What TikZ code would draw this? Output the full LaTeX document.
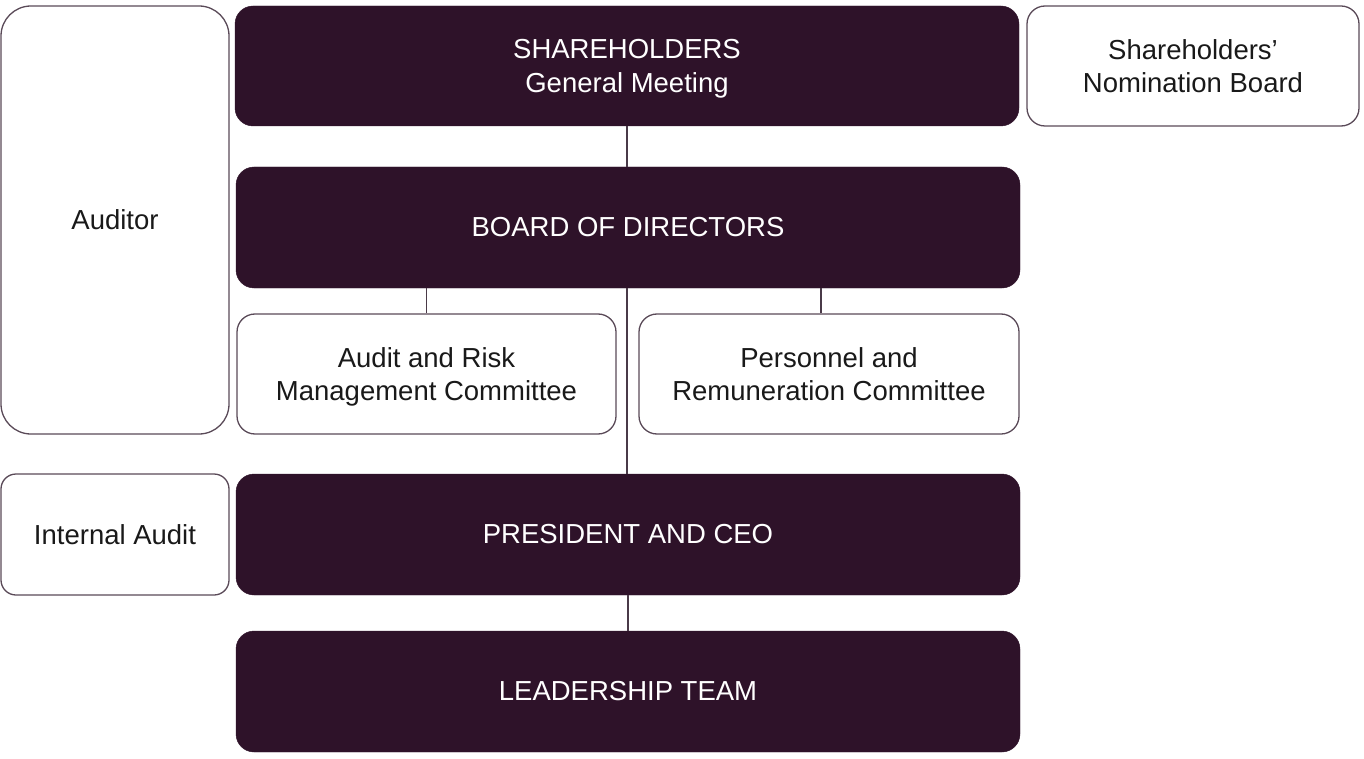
\documentclass[tikz,border=0pt]{standalone}
\usepackage{fontspec}
\setmainfont{Liberation Sans}
\definecolor{darkp}{HTML}{2E1229}
\definecolor{edgep}{HTML}{5A4A58}
\definecolor{linep}{HTML}{4A3A48}
\begin{document}
\begin{tikzpicture}[x=1pt,y=-1pt,
  darkbox/.style={fill=darkp, draw=darkp, text=white, rounded corners=18pt, align=center, inner sep=0pt, font=\fontsize{27.5}{33.5}\selectfont},
  lightbox/.style={fill=white, draw=edgep, line width=1.3pt, text=black!90, rounded corners=18pt, align=center, inner sep=0pt, font=\fontsize{27.5}{33.5}\selectfont},
  twoline/.style={text depth=0pt},
  conn/.style={draw=linep, line width=1.3pt}]
\useasboundingbox (0,0) rectangle (1364,759);
\node[lightbox, rounded corners=30pt, minimum width=228pt, minimum height=428pt] (aud) at (115,220) {Auditor};
\node[darkbox, twoline, minimum width=784pt, minimum height=120pt] (sh) at (627,66) {SHAREHOLDERS\\General Meeting};
\node[lightbox, twoline, minimum width=332pt, minimum height=120pt] (snb) at (1193,66) {Shareholders’\\Nomination Board};
\node[darkbox, minimum width=784pt, minimum height=121pt] (bod) at (628,227.5) {BOARD OF DIRECTORS};
\node[lightbox, twoline, minimum width=379pt, minimum height=120pt] (arm) at (426.5,374) {Audit and Risk\\Management Committee};
\node[lightbox, twoline, minimum width=380pt, minimum height=120pt] (prc) at (829,374) {Personnel and\\Remuneration Committee};
\node[lightbox, rounded corners=15pt, minimum width=228pt, minimum height=121pt] (ia) at (115,534.5) {Internal Audit};
\node[darkbox, minimum width=784pt, minimum height=121pt] (ceo) at (628,534.5) {PRESIDENT AND CEO};
\node[darkbox, minimum width=784pt, minimum height=121pt] (lt) at (628,691.5) {LEADERSHIP TEAM};
\draw[conn] (sh.south) -- (sh.south |- bod.north);
\draw[conn] (arm.north) -- (arm.north |- bod.south);
\draw[conn] ([xshift=-8pt]prc.north) -- ([xshift=-8pt]prc.north |- bod.south);
\draw[conn] ([xshift=-1pt]bod.south) -- ([xshift=-1pt]ceo.north);
\draw[conn] (ceo.south) -- (lt.north);
\end{tikzpicture}
\end{document}
